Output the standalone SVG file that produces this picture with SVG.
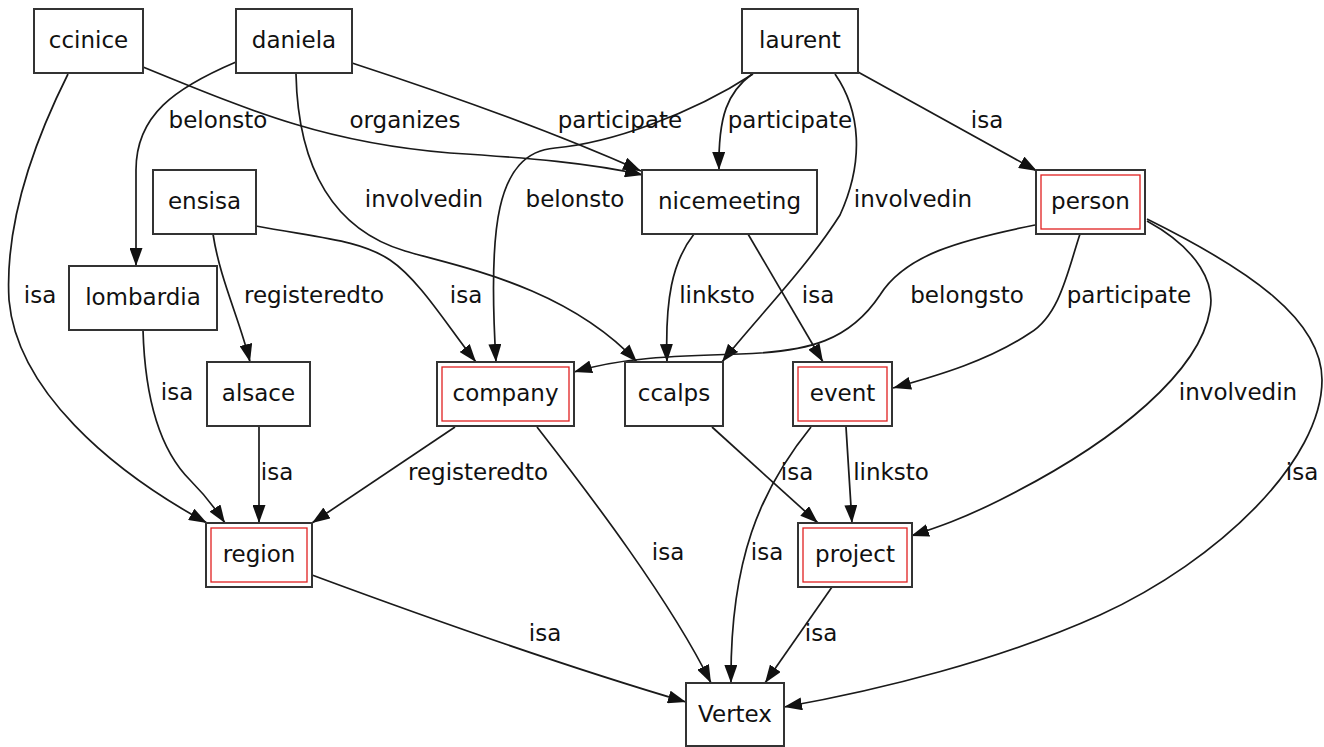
<svg xmlns="http://www.w3.org/2000/svg" width="1324" height="747" viewBox="0 0 1324 747">
<defs>
<marker id="arr" markerUnits="userSpaceOnUse" markerWidth="18" markerHeight="13" refX="18" refY="6.5" orient="auto">
<path d="M0,0 L18,6.5 L0,13 z" fill="#111"/>
</marker>
<style>
.n rect.o{fill:#fff;stroke:#333;stroke-width:2}
.n rect.i{fill:none;stroke:#e02020;stroke-width:1.3}
.n text,.l{font-family:"DejaVu Sans",Verdana,sans-serif;font-size:23px;fill:#111;text-anchor:middle}
#edges path{fill:none;stroke:#1a1a1a;stroke-width:1.7;marker-end:url(#arr)}
</style>
</defs>
<rect width="1324" height="747" fill="#fff"/>
<g id="edges">
<path d="M68,74 C30,150 5,230 9,300 C17,390 110,470 207,523"/>
<path d="M143,67 C260,115 330,143 450,153 C530,158 590,163 643,175"/>
<path d="M352,63 C450,95 560,135 641,171"/>
<path d="M236,62 C175,88 136,115 136,170 L136,266"/>
<path d="M296,74 C298,170 335,230 405,251 C455,266 565,285 637,362"/>
<path d="M753,74 C690,115 610,143 555,148 C495,153 488,230 496,362"/>
<path d="M752,74 C728,92 718,115 719,170"/>
<path d="M835,74 C860,110 865,160 840,215 C805,270 755,320 722,362"/>
<path d="M858,72 L1037,171"/>
<path d="M213,234 C220,280 240,320 250,362"/>
<path d="M256,226 C320,238 360,240 390,260 C420,280 450,330 476,362"/>
<path d="M694,234 C672,262 665,300 667,362"/>
<path d="M748,234 L823,362"/>
<path d="M1035,225 C960,240 905,255 880,295 C850,340 810,352 740,354 C670,356 620,358 574,372"/>
<path d="M1080,234 C1068,270 1060,315 1030,333 C990,360 940,375 893,388"/>
<path d="M1147,221 C1200,250 1215,285 1210,310 C1200,370 1120,440 1000,500 C960,520 935,528 911,536"/>
<path d="M1147,219 C1250,270 1322,320 1322,380 C1322,460 1220,560 1100,615 C1000,660 880,690 784,707"/>
<path d="M143,330 C145,400 160,450 190,480 C205,495 215,508 225,523"/>
<path d="M259,426 L259,523"/>
<path d="M455,427 L312,523"/>
<path d="M537,427 C590,495 670,600 711,683"/>
<path d="M712,427 L818,523"/>
<path d="M846,427 L852,523"/>
<path d="M811,427 C760,490 730,560 731,683"/>
<path d="M832,587 L765,683"/>
<path d="M312,575 C420,615 560,665 686,702"/>
</g>
<g id="edge-labels">
<text class="l" x="218" y="128">belonsto</text>
<text class="l" x="405" y="128">organizes</text>
<text class="l" x="620" y="128">participate</text>
<text class="l" x="790" y="128">participate</text>
<text class="l" x="987" y="128">isa</text>
<text class="l" x="424" y="207">involvedin</text>
<text class="l" x="575" y="207">belonsto</text>
<text class="l" x="913" y="207">involvedin</text>
<text class="l" x="40" y="303">isa</text>
<text class="l" x="314" y="303">registeredto</text>
<text class="l" x="466" y="303">isa</text>
<text class="l" x="717" y="303">linksto</text>
<text class="l" x="818" y="303">isa</text>
<text class="l" x="967" y="303">belongsto</text>
<text class="l" x="1129" y="303">participate</text>
<text class="l" x="177" y="400">isa</text>
<text class="l" x="1238" y="400">involvedin</text>
<text class="l" x="277" y="480">isa</text>
<text class="l" x="478" y="480">registeredto</text>
<text class="l" x="797" y="480">isa</text>
<text class="l" x="891" y="480">linksto</text>
<text class="l" x="1302" y="480">isa</text>
<text class="l" x="668" y="560">isa</text>
<text class="l" x="767" y="560">isa</text>
<text class="l" x="545" y="641">isa</text>
<text class="l" x="821" y="641">isa</text>
</g>
<g id="ccinice" class="n"><rect class="o" x="34" y="9" width="109" height="64"/><text x="88.5" y="48">ccinice</text></g>
<g id="daniela" class="n"><rect class="o" x="236" y="9" width="116" height="64"/><text x="294" y="48">daniela</text></g>
<g id="laurent" class="n"><rect class="o" x="742" y="9" width="116" height="64"/><text x="800" y="48">laurent</text></g>
<g id="ensisa" class="n"><rect class="o" x="153" y="170" width="103" height="64"/><text x="204.5" y="209">ensisa</text></g>
<g id="nicemeeting" class="n"><rect class="o" x="642" y="170" width="175" height="64"/><text x="729.5" y="209">nicemeeting</text></g>
<g id="person" class="n"><rect class="o" x="1036" y="170" width="109" height="64"/><rect class="i" x="1041" y="175" width="99" height="54"/><text x="1090.5" y="209">person</text></g>
<g id="lombardia" class="n"><rect class="o" x="69" y="266" width="148" height="64"/><text x="143" y="305">lombardia</text></g>
<g id="alsace" class="n"><rect class="o" x="207" y="362" width="103" height="64"/><text x="258.5" y="401">alsace</text></g>
<g id="company" class="n"><rect class="o" x="437" y="362" width="137" height="64"/><rect class="i" x="442" y="367" width="127" height="54"/><text x="505.5" y="401">company</text></g>
<g id="ccalps" class="n"><rect class="o" x="625" y="362" width="98" height="64"/><text x="674" y="401">ccalps</text></g>
<g id="event" class="n"><rect class="o" x="793" y="362" width="99" height="64"/><rect class="i" x="798" y="367" width="89" height="54"/><text x="842.5" y="401">event</text></g>
<g id="region" class="n"><rect class="o" x="206" y="523" width="106" height="64"/><rect class="i" x="211" y="528" width="96" height="54"/><text x="259" y="562">region</text></g>
<g id="project" class="n"><rect class="o" x="798" y="523" width="114" height="64"/><rect class="i" x="803" y="528" width="104" height="54"/><text x="855" y="562">project</text></g>
<g id="Vertex" class="n"><rect class="o" x="686" y="683" width="98" height="63"/><text x="735" y="722">Vertex</text></g>
</svg>
